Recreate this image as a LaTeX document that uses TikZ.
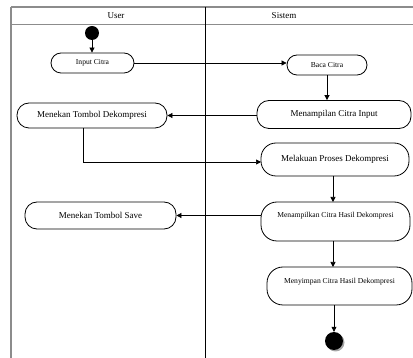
\documentclass[tikz,border=0pt]{standalone}
\usepackage{fontspec}
\setmainfont{Liberation Serif}
\usetikzlibrary{arrows.meta,calc,shadows}
\begin{document}
\begin{tikzpicture}[x=1pt,y=-1pt,
  frame/.style={draw=black!45,line width=1.6pt},
  lane/.style={draw=black,line width=0.9pt},
  act/.style={draw=black,line width=0.8pt,rectangle,rounded corners=12pt,inner sep=0pt,align=center},
  big/.style={font=\fontsize{9}{10}\selectfont},
  small/.style={font=\fontsize{7.6}{9}\selectfont},
  flow/.style={draw=black,line width=0.7pt,-{Triangle[length=5pt,width=5pt]}},
  startdot/.style={circle,fill=black,inner sep=0pt,minimum size=14pt},
  enddot/.style={circle,fill=black,inner sep=0pt,minimum size=18pt,drop shadow={shadow xshift=1.5pt,shadow yshift=-1.5pt,fill=black!35,opacity=1}}
]
\useasboundingbox (0,0) rectangle (413,358);
% frame
\draw[frame] (11,7) -- (413,7);
\draw[frame] (11,24.5) -- (413,24.5);
\draw[frame] (11,7) -- (11,358);
\draw[lane] (205,7) -- (205,358);
\node[big] (huser) at (116,15.5) {User};
\node[big] (hsys) at (284,15.5) {Sistem};
% nodes
\node[startdot] (start) at (92,33) {};
\node[act,small,rounded corners=10pt,minimum width=83pt,minimum height=20pt] (input) at (92.5,63) {Input Citra};
\node[act,small,rounded corners=10pt,minimum width=80pt,minimum height=20pt] (baca) at (327,65) {Baca Citra};
\node[act,big,minimum width=154pt,minimum height=28pt] (tampil) at (334,114.5) {Menampilan Citra Input};
\node[act,big,minimum width=150pt,minimum height=25pt] (tekan) at (92,115.5) {Menekan Tombol Dekompresi};
\node[act,big,rounded corners=15pt,minimum width=148pt,minimum height=33pt] (proses) at (335,159.5) {Melakuan Proses Dekompresi};
\node[act,small,rounded corners=16pt,minimum width=149pt,minimum height=39pt,text height=6pt,text depth=13.6pt] (hasil) at (335.5,221.5) {Menampilkan Citra Hasil Dekompresi};
\node[act,big,minimum width=151pt,minimum height=27pt] (save) at (100.5,215.5) {Menekan Tombol Save};
\node[act,small,rounded corners=16pt,minimum width=145pt,minimum height=38pt,text height=6pt,text depth=11pt] (simpan) at (339.5,286) {Menyimpan Citra Hasil Dekompresi};
\node[enddot] (end) at (334,341) {};
% helper coordinates
\coordinate (tk) at (83,128);
\coordinate (pw) at (261,162);
\coordinate (ps) at (333,176);
\coordinate (hn) at (333,202);
\coordinate (hs) at (333,241);
\coordinate (sn) at (333,267);
% connectors
\draw[flow] (start) -- (start |- input.north);
\draw[flow] (input.east) -- (input.east -| baca.west);
\draw[flow] (baca.south) -- (baca.south |- tampil.north);
\draw[flow] (tampil.west |- tekan.east) -- (tekan.east);
\draw[flow] (tk) |- (pw);
\draw[flow] (ps) -- (hn);
\draw[flow] (save.east -| hasil.west) -- (save.east);
\draw[flow] (hs) -- (sn);
\draw[flow] (end |- simpan.south) -- (end.north);
\end{tikzpicture}
\end{document}
